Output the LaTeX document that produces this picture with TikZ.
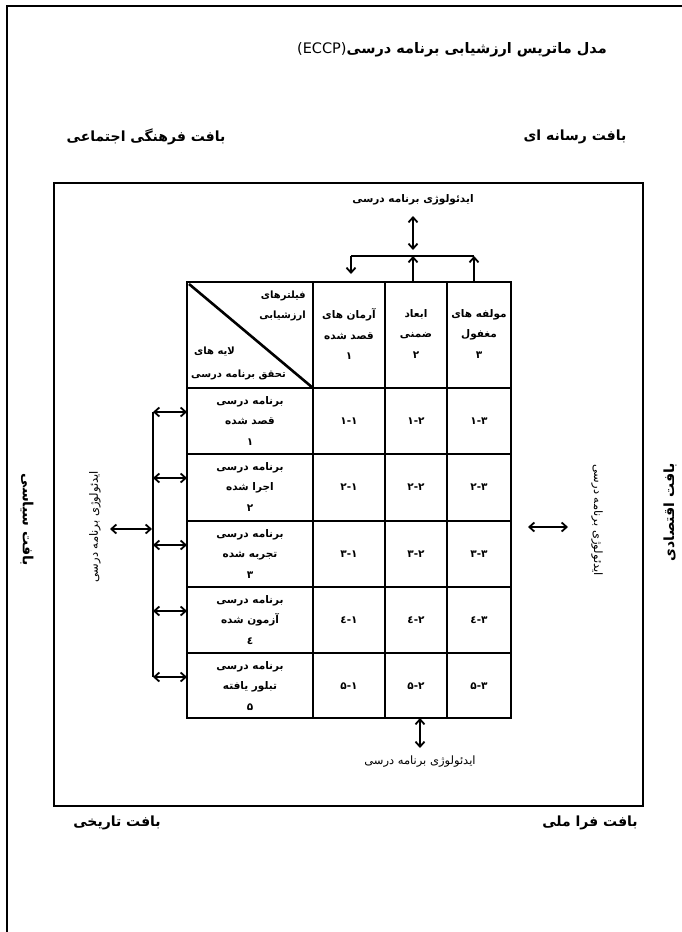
\documentclass[tikz,border=0pt]{standalone}
\usepackage{fontspec}
\setmainfont{DejaVu Sans}
\newfontfamily\farsifont[Script=Arabic]{DejaVu Sans}
\TeXXeTstate=1
\usetikzlibrary{arrows.meta}
\newcommand\RL[1]{{\farsifont\beginR #1\endR}}
\newcommand\cellnum[2]{{\farsifont\hbox{#1}\hbox{-}\hbox{#2}}}
\begin{document}
\begin{tikzpicture}[x=1pt,y=-1pt,
  frameline/.style={line width=2pt},
  tline/.style={line width=2.6pt},
  conn/.style={line width=1.8pt},
  dbl/.style={line width=1.8pt,{Straight Barb[length=5pt,width=9pt]}-{Straight Barb[length=5pt,width=9pt]}},
  sarr/.style={line width=1.8pt,-{Straight Barb[length=5pt,width=9pt]}},
  tabtxt/.style={inner sep=0pt,align=center,font=\bfseries\fontsize{10.5}{20.5}\selectfont},
  hdtxt/.style={inner sep=0pt,font=\bfseries\fontsize{10}{12}\selectfont},
  ctx/.style={inner sep=0pt,font=\bfseries\fontsize{14}{16}\selectfont},
  ideo/.style={inner sep=0pt,font=\bfseries\fontsize{10.5}{12}\selectfont},
  ideor/.style={inner sep=0pt,font=\fontsize{11.5}{13}\selectfont}]
\useasboundingbox (0,0) rectangle (682,932);
% page frame
\draw[frameline] (7,932) -- (7,6) -- (682,6);
% title
\node[inner sep=0pt,font=\bfseries\fontsize{14.5}{16}\selectfont] (title) at (452,50)
  {\RL{مدل ماتریس ارزشیابی برنامه درسی\beginL{\mdseries(ECCP)}\endL}};
% context labels
\node[ctx] (c1) at (146,137) {\RL{بافت فرهنگی اجتماعی}};
\node[ctx] (c2) at (575,137) {\RL{بافت رسانه ای}};
\node[ctx] (c3) at (117,823) {\RL{بافت تاریخی}};
\node[ctx] (c4) at (590,823) {\RL{بافت فرا ملی}};
\node[ctx,rotate=-90] (c5) at (27,520) {\RL{بافت سیاسی}};
\node[ctx,rotate=90] (c6) at (670,512) {\RL{بافت اقتصادی}};
% inner rectangle
\draw[line width=2.2pt] (54,183) rectangle (643,806);
% table
\draw[tline] (187,282) rectangle (511,718);
\foreach \xx in {313,385,447} \draw[tline] (\xx,282) -- (\xx,718);
\foreach \yy in {388,454,521,587,653} \draw[tline] (187,\yy) -- (511,\yy);
\draw[tline] (189,284) -- (313,388);
% header cell
\node[hdtxt,anchor=east] (hf1) at (306,296) {\RL{فیلترهای}};
\node[hdtxt,anchor=east] (hf2) at (306,316) {\RL{ارزشیابی}};
\node[hdtxt,anchor=west] (hl1) at (194,352) {\RL{لایه های}};
\node[hdtxt,anchor=west] (hl2) at (191,375) {\RL{تحقق برنامه درسی}};
% column headers
\node[tabtxt] (col1) at (349,334) {\RL{آرمان های}\\\RL{قصد شده}\\\RL{۱}};
\node[tabtxt] (col2) at (416,334) {\RL{ابعاد}\\\RL{ضمنی}\\\RL{۲}};
\node[tabtxt] (col3) at (479,334) {\RL{مولفه های}\\\RL{مغفول}\\\RL{۳}};
% row headers
\node[tabtxt] (row1) at (250,421) {\RL{برنامه درسی}\\\RL{قصد شده}\\\RL{۱}};
\node[tabtxt] (row2) at (250,487) {\RL{برنامه درسی}\\\RL{اجرا شده}\\\RL{۲}};
\node[tabtxt] (row3) at (250,554) {\RL{برنامه درسی}\\\RL{تجربه شده}\\\RL{۳}};
\node[tabtxt] (row4) at (250,620) {\RL{برنامه درسی}\\\RL{آزمون شده}\\\RL{٤}};
\node[tabtxt] (row5) at (250,686) {\RL{برنامه درسی}\\\RL{تبلور یافته}\\\RL{۵}};
% cells
\node[tabtxt] (m11) at (349,421) {\cellnum{۱}{۱}};
\node[tabtxt] (m12) at (416,421) {\cellnum{۱}{۲}};
\node[tabtxt] (m13) at (479,421) {\cellnum{۱}{۳}};
\node[tabtxt] (m21) at (349,487) {\cellnum{۲}{۱}};
\node[tabtxt] (m22) at (416,487) {\cellnum{۲}{۲}};
\node[tabtxt] (m23) at (479,487) {\cellnum{۲}{۳}};
\node[tabtxt] (m31) at (349,554) {\cellnum{۳}{۱}};
\node[tabtxt] (m32) at (416,554) {\cellnum{۳}{۲}};
\node[tabtxt] (m33) at (479,554) {\cellnum{۳}{۳}};
\node[tabtxt] (m41) at (349,620) {\cellnum{٤}{۱}};
\node[tabtxt] (m42) at (416,620) {\cellnum{٤}{۲}};
\node[tabtxt] (m43) at (479,620) {\cellnum{٤}{۳}};
\node[tabtxt] (m51) at (349,686) {\cellnum{۵}{۱}};
\node[tabtxt] (m52) at (416,686) {\cellnum{۵}{۲}};
\node[tabtxt] (m53) at (479,686) {\cellnum{۵}{۳}};
% top ideology
\node[ideo] (ideotop) at (413,200) {\RL{ایدئولوژی برنامه درسی}};
\coordinate (tj1) at (351,256);
\coordinate (tj2) at (413,256);
\coordinate (tj3) at (474,256);
\coordinate (tt1) at (351,274);
\coordinate (tt2) at (413,282);
\coordinate (tt3) at (474,282);
\coordinate (tdt) at (413,216);
\draw[dbl] (tdt) -- (413,250);
\draw[conn] (tj1) -- (tj3);
\draw[sarr] (tj1) -- (tt1);
\draw[sarr] (tt2) -- (tj2);
\draw[sarr] (tt3) -- (tj3);
% bottom ideology
\node[ideor] (ideobot) at (420,762) {\RL{ایدئولوژی برنامه درسی}};
\coordinate (bt) at (420,718);
\coordinate (bb) at (420,748);
\draw[dbl] (bt) -- (bb);
% left side
\foreach \yy/\nm in {412/a,478/b,545/c,611/d,677/e}{
  \coordinate (l\nm) at (153,\yy);
  \coordinate (t\nm) at (187,\yy);
  \draw[dbl] (l\nm) -- (t\nm);
}
\draw[conn] (la) -- (le);
\node[ideor,rotate=90] (ideoleft) at (95,527) {\RL{ایدئولوژی برنامه درسی}};
\coordinate (lbig1) at (110,529);
\coordinate (lbig2) at (152,529);
\draw[dbl] (lbig1) -- (lbig2);
% right side
\node[ideor,rotate=-90] (ideoright) at (597,520) {\RL{ایدئولوژی برنامه درسی}};
\coordinate (rbig1) at (528,527);
\coordinate (rbig2) at (568,527);
\draw[dbl] (rbig1) -- (rbig2);
\end{tikzpicture}
\end{document}
